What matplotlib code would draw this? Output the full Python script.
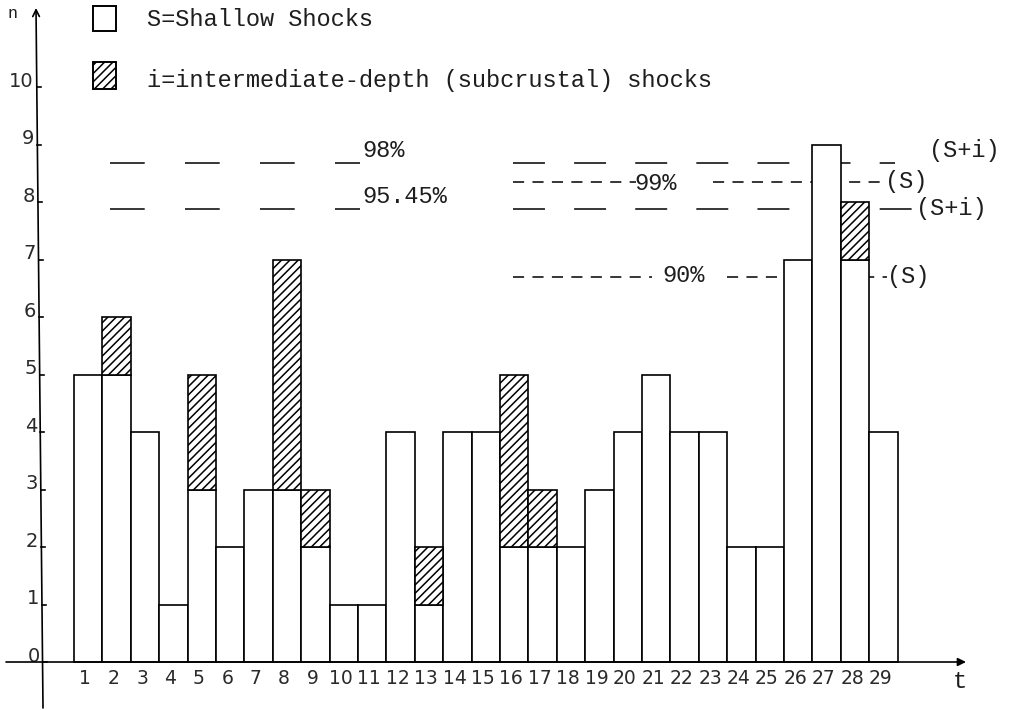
import matplotlib
matplotlib.use("Agg")
import matplotlib.pyplot as plt
from matplotlib.patches import Rectangle

# ---------------- data ----------------
t = list(range(1, 30))
shallow = [5, 5, 4, 1, 3, 2, 3, 3, 2, 1, 1, 4, 1, 4, 4, 2, 2, 2, 3, 4, 5, 4, 4, 2, 2, 7, 9, 7, 4]
intermediate = [0, 1, 0, 0, 2, 0, 0, 4, 1, 0, 0, 0, 1, 0, 0, 3, 1, 0, 0, 0, 0, 0, 0, 0, 0, 0, 0, 1, 0]
y_ticks = list(range(0, 11))

# significance levels (n values)
lvl_left = [8.68, 7.88]            # 98%, 95.45%
lvl_left_labels = ["98%", "95.45%"]
lvl_si = [8.68, 7.88]              # (S+i) levels, right group
lvl_s = [8.35, 6.70]               # (S) levels: 99%, 90%
lvl_s_labels = ["99%", "90%"]

# ---------------- layout (pixel based) ----------------
W, H = 1013, 710
PX0, PXW = 74.0, 28.4      # left edge of bar 1, bar width in px
PY0, PYU = 662.0, 57.5     # y=0 pixel row, px per unit

def xd(px):
    return 0.5 + (px - PX0) / PXW

def yd(py):
    return (PY0 - py) / PYU

plt.rcParams['hatch.linewidth'] = 1.1
plt.rcParams['lines.scale_dashes'] = False

fig = plt.figure(figsize=(W / 100, H / 100), dpi=100)
ax = fig.add_axes([0, 0, 1, 1])
ax.set_xlim(xd(0), xd(W))
ax.set_ylim(yd(H), yd(0))
ax.axis('off')

mono = "Liberation Mono"
TXT = "#1e1e1e"
MFS = 17
tickfont = dict(family="DejaVu Sans", color="#2a2a2a")

# ---------------- bars ----------------
ax.bar(t, shallow, width=1.0, color="white", edgecolor="black", linewidth=1.2, zorder=3)
ti = [x for x, v in zip(t, intermediate) if v > 0]
bi = [s for s, v in zip(shallow, intermediate) if v > 0]
hi = [v for v in intermediate if v > 0]
ax.bar(ti, hi, bottom=bi, width=1.0, color="white", edgecolor="black", hatch="////",
       linewidth=1.2, zorder=3)

# ---------------- reference levels ----------------
left_dash = (0, (25, 29))
long_dash = (0, (23, 21))
short_dash = (0, (8, 6))
lw = 1.1
# left group
for lv, lab in zip(lvl_left, lvl_left_labels):
    ax.plot([xd(110), xd(360)], [lv, lv], color="black", lw=lw, linestyle=left_dash, zorder=1)
    ax.text(xd(362), lv + 0.02, lab, family=mono, fontsize=MFS, ha="left", va="bottom",
            color=TXT, zorder=5)

# right group: (S+i) long dashes
ax.plot([xd(513), xd(895)], [lvl_si[0], lvl_si[0]], color="black", lw=lw,
        linestyle=long_dash, zorder=1)
ax.plot([xd(513), xd(917)], [lvl_si[1], lvl_si[1]], color="black", lw=lw,
        linestyle=long_dash, zorder=1)
# right group: (S) short dashes, broken around their labels
for lv, segs in [(lvl_s[0], [(513, 636), (713, 884)]), (lvl_s[1], [(513, 652), (727, 887)])]:
    for a, b in segs:
        ax.plot([xd(a), xd(b)], [lv, lv], color="black", lw=lw, linestyle=short_dash, zorder=1)
ax.text(xd(634), lvl_s[0] - 0.03, lvl_s_labels[0], family=mono, fontsize=MFS, ha="left",
        va="center", color=TXT, zorder=5)
ax.text(xd(662), lvl_s[1] + 0.02, lvl_s_labels[1], family=mono, fontsize=MFS, ha="left",
        va="center", color=TXT, zorder=5)

# right labels
ax.text(xd(929), yd(150), "(S+i)", family=mono, fontsize=MFS, ha="left", va="center", color=TXT)
ax.text(xd(885), lvl_s[0], "(S)", family=mono, fontsize=MFS, ha="left", va="center", color=TXT)
ax.text(xd(916), lvl_si[1], "(S+i)", family=mono, fontsize=MFS, ha="left", va="center", color=TXT)
ax.text(xd(887), lvl_s[1], "(S)", family=mono, fontsize=MFS, ha="left", va="center", color=TXT)

# ---------------- axes ----------------
ax.annotate("", xy=(xd(966), 0), xytext=(xd(6), 0),
            arrowprops=dict(arrowstyle="-|>", lw=1.2, color="black",
                            mutation_scale=12, shrinkA=0, shrinkB=0), zorder=4)
ax.annotate("", xy=(xd(36), yd(8)), xytext=(xd(43), yd(708)),
            arrowprops=dict(arrowstyle="->", lw=1.2, color="black",
                            mutation_scale=12, shrinkA=0, shrinkB=0), zorder=4)

# y ticks & labels
for v in y_ticks:
    py = PY0 - PYU * v
    xa = 43 - 7 * (708 - py) / 700.0
    ax.plot([xd(xa), xd(xa + 4)], [v, v], color="black", lw=1.2, zorder=4)
    ax.text(xd(xa - 3), v + 0.1, str(v), fontsize=14, ha="right", va="center", **tickfont)

# x tick labels
for x in t:
    ax.text(x - 0.1, yd(679), str(x), fontsize=13.5, ha="center", va="center", **tickfont)

ax.text(xd(960), yd(681), "t", family=mono, fontsize=MFS, ha="center", va="center", color=TXT)
ax.text(xd(13), yd(14), "n", family=mono, fontsize=12, ha="center", va="center", color=TXT)

# ---------------- legend ----------------
ax.add_patch(Rectangle((xd(93), yd(31)), xd(116) - xd(93), yd(6) - yd(31),
                       facecolor="white", edgecolor="black", lw=1.4, zorder=5))
ax.add_patch(Rectangle((xd(93), yd(89)), xd(116) - xd(93), yd(62) - yd(89),
                       facecolor="white", edgecolor="black", hatch="////", lw=1.4, zorder=5))
ax.text(xd(147), yd(19), "S=Shallow Shocks", family=mono, fontsize=MFS, ha="left",
        va="center", color=TXT)
ax.text(xd(147), yd(80), "i=intermediate-depth (subcrustal) shocks", family=mono,
        fontsize=MFS, ha="left", va="center", color=TXT)

fig.savefig("out.png", dpi=100)
